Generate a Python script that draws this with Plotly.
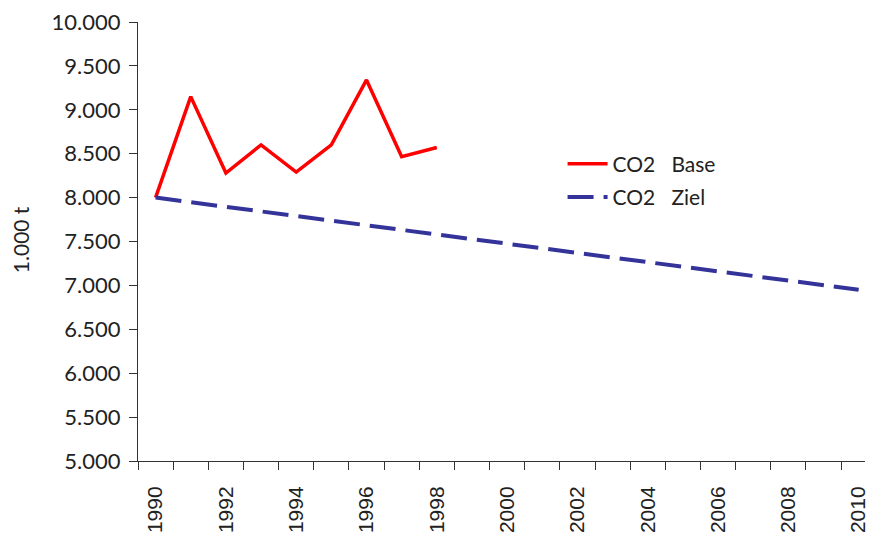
import plotly.graph_objects as go

# Years on the x axis
years = list(range(1990, 2011))

# CO2 emissions, 1.000 t
co2_base_years = list(range(1990, 1999))
co2_base = [8000, 9150, 8280, 8600, 8290, 8600, 9340, 8465, 8570]

co2_ziel = [8000, 7948, 7895, 7843, 7790, 7738, 7685, 7633, 7580, 7528,
            7475, 7423, 7370, 7318, 7265, 7213, 7160, 7108, 7055, 7003, 6950]

y_ticks = [5000, 5500, 6000, 6500, 7000, 7500, 8000, 8500, 9000, 9500, 10000]
x_label_years = list(range(1990, 2011, 2))

fig = go.Figure()
fig.add_trace(go.Scatter(
    x=co2_base_years, y=co2_base, mode="lines", name="CO2\u00a0\u00a0 Base",
    legendgroup="base",
    line=dict(color="#FF0000", width=3.5),
))
fig.add_trace(go.Scatter(
    x=years, y=co2_ziel, mode="lines", name="CO2\u00a0\u00a0 Ziel",
    legendgroup="ziel",
    line=dict(color="#333399", width=4, dash="26px,10px"),
))

axis_color = "#333333"
text_color = "#222222"
fig.update_layout(
    width=869, height=533,
    margin=dict(l=138, r=0, t=22, b=71),
    paper_bgcolor="white", plot_bgcolor="white",
    separators=",.",
    showlegend=True,
    legend=dict(
        x=0.584, y=0.7232, xanchor="left", yanchor="top",
        font=dict(family="Lato, sans-serif", size=21, color=text_color),
        bgcolor="rgba(0,0,0,0)", tracegroupgap=3, itemwidth=40,
    ),
    xaxis=dict(
        range=[1989.5, 2010.18],
        showline=True, linecolor=axis_color, linewidth=1,
        showgrid=False, zeroline=False,
        tickmode="array", tickvals=x_label_years,
        ticktext=[str(y) for y in x_label_years],
        ticks="", tickangle=-90, ticklabelstandoff=16,
        ticklabeloverflow="allow",
        tickfont=dict(family="Liberation Sans, Arial, sans-serif", size=21, color=text_color),
        minor=dict(ticks="outside", ticklen=8, tickcolor=axis_color,
                   tickwidth=1, tick0=1989.5, dtick=1, showgrid=False),
    ),
    yaxis=dict(
        range=[5000, 10000],
        showline=True, linecolor=axis_color, linewidth=1,
        showgrid=False, zeroline=False,
        tickmode="array", tickvals=y_ticks, tickformat=",.0f",
        ticks="outside", ticklen=8, tickcolor=axis_color,
        ticklabelstandoff=4,
        tickfont=dict(family="Lato, sans-serif", size=22, color=text_color),
    ),
    annotations=[dict(
        text="1.000 t", textangle=-90, showarrow=False,
        xref="paper", yref="paper", x=-0.1614, y=0.5045,
        xanchor="center", yanchor="middle",
        font=dict(family="Lato, sans-serif", size=21, color=text_color),
    )],
)

fig.write_html("out.html")
